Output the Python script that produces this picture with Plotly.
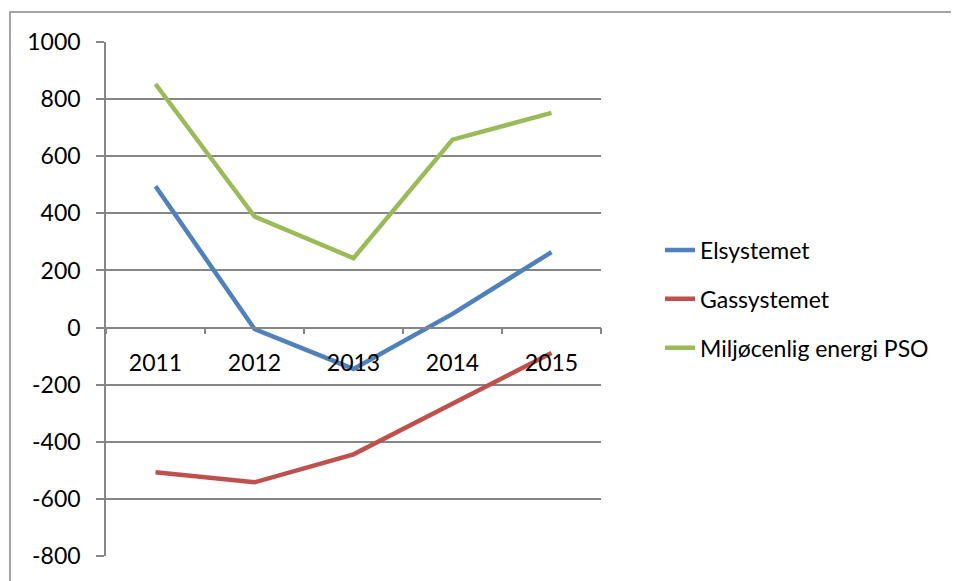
import plotly.graph_objects as go

years = ['2011', '2012', '2013', '2014', '2015']
elsystemet = [495, -5, -145, 48, 264]
gassystemet = [-507, -542, -444, -267, -89]
miljo_pso = [853, 389, 243, 658, 752]

y_ticks = [-800, -600, -400, -200, 0, 200, 400, 600, 800, 1000]
y_tick_labels = ['-800', '-600', '-400', '-200', '0', '200', '400', '600', '800', '1000']

series = [
    ('Elsystemet', elsystemet, '#4F81BD'),
    ('Gassystemet', gassystemet, '#C0504D'),
    ('Miljøcenlig energi PSO', miljo_pso, '#9BBB59'),
]

font = 'Lato, Carlito, Calibri, sans-serif'
grid = '#868686'

fig = go.Figure()
for i, (name, vals, color) in enumerate(series):
    fig.add_trace(go.Scatter(x=years, y=vals, mode='lines', name=name,
                             legendgroup=str(i),
                             line=dict(color=color, width=4.5)))

# page body has an 8px margin, so the figure is a bit smaller than the window
W, H = 951, 573
L, R, T, B = 98, 358, 34, 23
pw, ph = W - L - R, H - T - B

fig.update_layout(
    width=W, height=H,
    margin=dict(l=L, r=R, t=T, b=B),
    paper_bgcolor='white', plot_bgcolor='white',
    font=dict(family=font, size=23, color='black'),
    showlegend=True,
    legend=dict(x=(652 - L) / pw, xanchor='left', y=(H - B - 292) / ph, yanchor='middle',
                traceorder='grouped', tracegroupgap=16,
                font=dict(size=23), bgcolor='rgba(0,0,0,0)'),
    xaxis=dict(type='category', range=[-0.5, 4.5], anchor='free',
               position=800 / 1800, showgrid=False, zeroline=False,
               showline=True, linecolor=grid, linewidth=1.5,
               ticks='outside', tickson='boundaries', ticklen=6,
               tickcolor=grid, tickwidth=1.5, ticklabelstandoff=15),
    yaxis=dict(range=[-800, 1000], tickmode='array', tickvals=y_ticks,
               ticktext=y_tick_labels, showgrid=True, gridcolor=grid,
               gridwidth=1.5, zeroline=False, showline=True, linecolor=grid,
               linewidth=1.5, ticks='outside', ticklen=8, tickcolor=grid,
               tickwidth=1.5, ticklabelstandoff=11),
    shapes=[dict(type='rect', xref='paper', yref='paper',
                 x0=(2 - L) / pw, x1=(W + 5 - L) / pw,
                 y0=(H - B - (H + 5)) / ph, y1=(H - B - 4) / ph,
                 line=dict(color=grid, width=1.5), fillcolor='rgba(0,0,0,0)',
                 layer='below')],
)

fig.write_html('out.html')
